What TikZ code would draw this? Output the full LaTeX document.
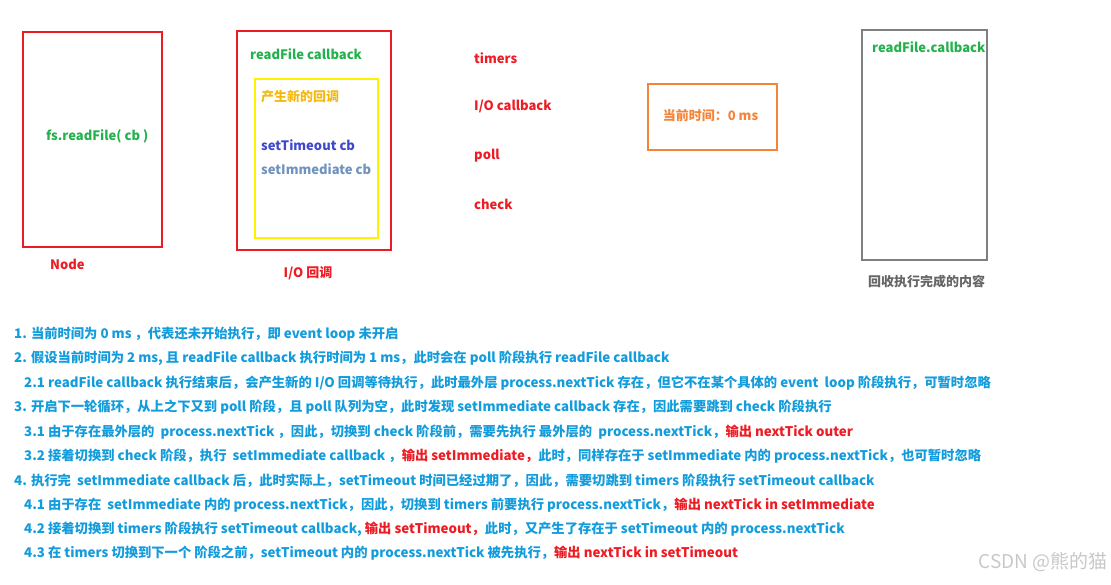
\documentclass[tikz,border=0pt]{standalone}
\usepackage{fontspec}
\setmainfont{Noto Sans CJK SC}
\definecolor{pred}{HTML}{ED1C24}
\definecolor{pgreen}{HTML}{22B14C}
\definecolor{pyellow}{HTML}{FFF200}
\definecolor{pgold}{HTML}{F5B90E}
\definecolor{porange}{HTML}{F5843A}
\definecolor{pgray}{HTML}{7F7F7F}
\definecolor{pindigo}{HTML}{3F48CC}
\definecolor{pslate}{HTML}{7092BE}
\definecolor{pblue}{HTML}{139CDC}
\definecolor{lbl}{HTML}{666666}
\definecolor{wm}{HTML}{C8C8C8}
\tikzset{
  frame/.style={draw, line width=2pt},
  txt/.style={anchor=west, inner sep=0pt, font=\fontsize{13}{15}\selectfont\bfseries},
  ln/.style={txt, text=pblue, font=\fontsize{13.3}{15}\selectfont\bfseries},
}
\newcommand{\rd}[1]{\textcolor{pred}{#1}}
\begin{document}
\begin{tikzpicture}[x=1pt,y=-1pt]
\useasboundingbox (0,0) rectangle (1111,585);
% boxes
\node[frame, draw=pred, minimum width=139pt, minimum height=215pt, anchor=north west] (nodebox) at (22,31) {};
\node[frame, draw=pred, minimum width=154pt, minimum height=219pt, anchor=north west] (iobox) at (236,30) {};
\node[frame, draw=pyellow, minimum width=123pt, minimum height=159pt, anchor=north west] (newcb) at (253.5,78) {};
\node[frame, draw=porange, minimum width=129pt, minimum height=66pt, anchor=north west] (timebox) at (646.5,83.5) {};
\node[frame, draw=pgray, minimum width=125pt, minimum height=230pt, anchor=north west] (donebox) at (861,29.5) {};
% box texts
\node[txt, text=pgreen] (fsread) at (46,136) {fs.readFile( cb )};
\node[txt, text=pred] (nodelbl) at (50,264) {Node};
\node[txt, text=pgreen] (rfcb) at (250,54) {readFile callback};
\node[txt, text=pgold] (newlbl) at (261,97) {产生新的回调};
\node[txt, text=pindigo] (stcb) at (261,145) {setTimeout cb};
\node[txt, text=pslate] (sicb) at (261,169) {setImmediate cb};
\node[txt, text=pred, anchor=center] (iolbl) at (308,273) {I/O 回调};
\node[txt, text=pred] (timers) at (474,58) {timers};
\node[txt, text=pred] (iocb) at (474,106.5) {I/O callback};
\node[txt, text=pred] (poll) at (474,156) {poll};
\node[txt, text=pred] (check) at (474,204) {check};
\node[txt, text=porange, anchor=center] (nowtime) at (710.5,116) {当前时间：0 ms};
\node[txt, text=pgreen] (rfdone) at (872,47.5) {readFile.callback};
\node[txt, text=lbl, anchor=center] (donelbl) at (926.5,281.5) {回收执行完成的内容};
% lines
\node[ln] (l1) at (14,334) {1. 当前时间为 0 ms ，代表还未开始执行，即 event loop 未开启};
\node[ln] (l2) at (14,358.5) {2. 假设当前时间为 2 ms, 且 readFile callback 执行时间为 1 ms，此时会在 poll 阶段执行 readFile callback};
\node[ln] (l21) at (24,383) {2.1 readFile callback 执行结束后，会产生新的 I/O 回调等待执行，此时最外层 process.nextTick 存在，但它不在某个具体的 event~ loop 阶段执行，可暂时忽略};
\node[ln] (l3) at (14,407.5) {3. 开启下一轮循环，从上之下又到 poll 阶段，且 poll 队列为空，此时发现 setImmediate callback 存在，因此需要跳到 check 阶段执行};
\node[ln] (l31) at (24,432) {3.1 由于存在最外层的~ process.nextTick ，因此，切换到 check 阶段前，需要先执行 最外层的~ process.nextTick，\rd{输出 nextTick outer}};
\node[ln] (l32) at (24,456) {3.2 接着切换到 check 阶段，执行~ setImmediate callback ，\rd{输出 setImmediate，}此时，同样存在于 setImmediate 内的 process.nextTick，也可暂时忽略};
\node[ln] (l4) at (14,480.5) {4. 执行完~ setImmediate callback 后，此时实际上，setTimeout 时间已经过期了，因此，需要切跳到 timers 阶段执行 setTimeout callback};
\node[ln] (l41) at (24,505) {4.1 由于存在~ setImmediate 内的 process.nextTick，因此，切换到 timers 前要执行 process.nextTick，\rd{输出 nextTick in setImmediate}};
\node[ln] (l42) at (24,529.5) {4.2 接着切换到 timers 阶段执行 setTimeout callback, \rd{输出 setTimeout，}此时，又产生了存在于 setTimeout 内的 process.nextTick};
\node[ln] (l43) at (24,553.5) {4.3 在 timers 切换到下一个 阶段之前，setTimeout 内的 process.nextTick 被先执行，\rd{输出 nextTick in setTimeout}};
% watermark
\node[anchor=east, inner sep=0pt, text=wm, font=\fontsize{19}{21}\selectfont] (mark) at (1108,562) {CSDN @熊的猫};
\end{tikzpicture}
\end{document}
